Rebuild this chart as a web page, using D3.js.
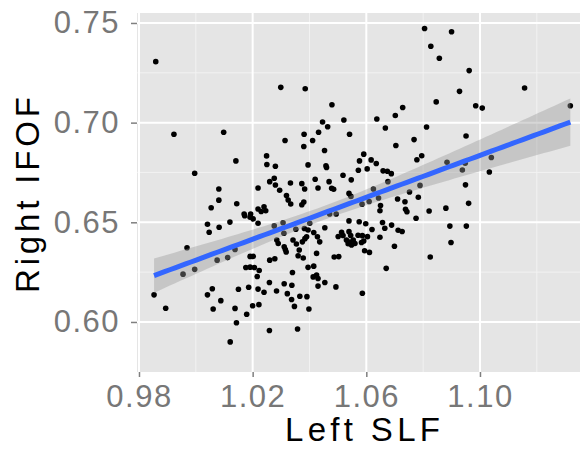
<!DOCTYPE html>
<html>
<head>
<meta charset="utf-8">
<script src="https://cdn.jsdelivr.net/npm/d3@7"></script>
<style>
  body { margin: 0; background: #fff; }
  text { font-family: "Liberation Sans", Arial, sans-serif; }
</style>
</head>
<body>
<div id="chart"></div>
<script>
// values, one entry per subject
const leftSLF = [
  0.9859, 0.9923, 0.9996, 1.0098, 1.0141, 1.0299, 1.0385, 1.0479, 1.0521, 1.0446,
  1.0464, 1.0381, 1.0432, 1.0541, 1.0411, 1.0314, 1.0380, 1.0453, 1.0249, 1.0250,
  1.0280, 1.0395, 1.0458, 1.0460, 1.0518, 1.0547, 1.0276, 1.0260, 1.0280, 1.0333,
  1.0373, 1.0420, 1.0469, 1.0081, 1.0219, 1.0295, 1.0383, 1.0430, 1.0319, 1.0325,
  1.0334, 1.0373, 1.0380, 1.0081, 1.0054, 1.0144, 1.0170, 1.0193, 1.0219, 1.0240,
  1.0246, 1.0230, 1.0805, 1.0900, 1.0827, 1.0857, 1.0962, 1.0928, 1.1157, 1.0846,
  1.0985, 1.1008, 1.0728, 1.0702, 1.0637, 1.0667, 1.1318, 1.0812, 1.0951, 1.0768,
  1.0704, 1.0795, 1.0778, 1.0591, 1.0576, 1.0617, 1.0635, 1.0603, 1.0572, 1.0659,
  1.0674, 1.0688, 1.0676, 1.0625, 1.0478, 1.0485, 1.0539, 1.0546, 1.0643, 1.0585,
  1.0610, 1.0752, 1.0789, 1.0884, 1.0938, 1.0948, 1.1040, 1.1033, 1.0949, 1.0710,
  1.0736, 1.0783, 1.0650, 1.0648, 1.0738, 1.0743, 1.0821, 1.0880, 1.0960, 1.0539,
  1.0575, 1.0598, 1.0620, 1.0657, 1.0665, 1.0689, 1.0712, 1.0726, 1.0775, 1.0894,
  1.0952, 1.0898, 1.0648, 1.0586, 1.0699, 1.0825, 1.0670, 1.0594, 1.0611, 1.0487,
  1.0503, 1.0493, 1.0586, 1.0513, 1.0501, 1.0518, 1.0539, 1.0545, 1.0530, 1.0542,
  1.0554, 1.0560, 1.0536, 1.0548, 1.0583, 1.0571, 1.0591, 1.0604, 1.0471, 1.0494,
  0.9853, 0.9894, 0.9969, 0.9955, 0.9996, 1.0075, 1.0112, 1.0138, 1.0041, 1.0047,
  1.0082, 1.0120, 1.0172, 1.0191, 1.0202, 1.0219, 1.0276, 1.0285, 1.0290, 1.0310,
  1.0315, 1.0318, 1.0352, 1.0354, 1.0364, 1.0360, 1.0378, 1.0382, 1.0395, 1.0390,
  1.0384, 1.0401, 1.0415, 1.0428, 1.0436, 1.0425, 1.0454, 1.0415, 1.0395, 1.0425,
  1.0413, 1.0430, 1.0430, 1.0454, 1.0340, 1.0176, 1.0191, 1.0206, 1.0223, 1.0216,
  1.0191, 1.0202, 1.0260, 1.0278, 1.0058, 1.0041, 1.0088, 1.0061, 1.0150, 1.0186,
  1.0219, 1.0240, 1.0259, 1.0284, 1.0311, 1.0338, 1.0322, 1.0337, 1.0347, 1.0366,
  1.0391, 1.0398, 1.0138, 1.0200, 1.0222, 1.0179, 1.0143, 1.0259, 1.0358, 1.0121,
  1.0311, 1.0342, 1.0375, 1.0307
];
const rightIFOF = [
  0.7306, 0.6942, 0.6746, 0.6952, 0.6808, 0.7177, 0.7170, 0.7090, 0.7013, 0.7003,
  0.6979, 0.6942, 0.6952, 0.6942, 0.6910, 0.6910, 0.6880, 0.6860, 0.6833, 0.6790,
  0.6781, 0.6788, 0.6784, 0.6775, 0.6736, 0.6713, 0.6721, 0.6704, 0.6687, 0.6697,
  0.6694, 0.6716, 0.6704, 0.6667, 0.6672, 0.6661, 0.6667, 0.6672, 0.6634, 0.6612,
  0.6592, 0.6588, 0.6602, 0.6611, 0.6573, 0.6593, 0.6542, 0.6542, 0.6567, 0.6578,
  0.6558, 0.6554, 0.7472, 0.7456, 0.7383, 0.7323, 0.7261, 0.7157, 0.7174, 0.7104,
  0.7085, 0.7073, 0.7076, 0.7036, 0.7018, 0.6973, 0.7085, 0.6978, 0.6933, 0.6915,
  0.6885, 0.6834, 0.6814, 0.6842, 0.6808, 0.6813, 0.6795, 0.6768, 0.6761, 0.6758,
  0.6756, 0.6744, 0.6704, 0.6667, 0.6671, 0.6666, 0.6645, 0.6630, 0.6622, 0.6591,
  0.6604, 0.6652, 0.6685, 0.6801, 0.6762, 0.6796, 0.6825, 0.6752, 0.6688, 0.6617,
  0.6603, 0.6626, 0.6584, 0.6558, 0.6565, 0.6553, 0.6557, 0.6571, 0.6595, 0.6507,
  0.6503, 0.6493, 0.6464, 0.6499, 0.6470, 0.6486, 0.6460, 0.6454, 0.6520, 0.6481,
  0.6481, 0.6399, 0.6425, 0.6433, 0.6380, 0.6326, 0.6269, 0.6357, 0.6349, 0.6326,
  0.6328, 0.6176, 0.6144, 0.6450, 0.6429, 0.6434, 0.6453, 0.6434, 0.6411, 0.6401,
  0.6411, 0.6394, 0.6393, 0.6386, 0.6399, 0.6435, 0.6406, 0.6428, 0.6542, 0.6542,
  0.6136, 0.6069, 0.6372, 0.6240, 0.6264, 0.6310, 0.6323, 0.6364, 0.6490, 0.6450,
  0.6475, 0.6501, 0.6533, 0.6525, 0.6517, 0.6495, 0.6482, 0.6411, 0.6394, 0.6445,
  0.6363, 0.6351, 0.6465, 0.6391, 0.6361, 0.6332, 0.6321, 0.6469, 0.6461, 0.6427,
  0.6418, 0.6495, 0.6449, 0.6427, 0.6402, 0.6344, 0.6473, 0.6280, 0.6274, 0.6235,
  0.6226, 0.6218, 0.6180, 0.6198, 0.6248, 0.6273, 0.6275, 0.6273, 0.6258, 0.6228,
  0.6329, 0.6329, 0.6310, 0.6317, 0.6167, 0.6136, 0.6107, 0.6065, 0.6164, 0.6174,
  0.6165, 0.6149, 0.6198, 0.6155, 0.6192, 0.6184, 0.6142, 0.6113, 0.6078, 0.6129,
  0.6127, 0.6065, 0.6068, 0.6081, 0.6087, 0.6039, 0.5996, 0.5957, 0.5965, 0.5900,
  0.6377, 0.6411, 0.6402, 0.6498
];

const xTicks = [0.98, 1.02, 1.06, 1.10];
const yTicks = [0.60, 0.65, 0.70, 0.75];
const xMinor = [1.00, 1.04, 1.08, 1.12];
const yMinor = [0.625, 0.675, 0.725];
const xTitle = "Left SLF";
const yTitle = "Right IFOF";

const width = 580,
  height = 456,
  panel = { left: 137, right: 580, top: 13, bottom: 372 };

const data = leftSLF.map((d, i) => ({ x: d, y: rightIFOF[i] }));

const xScale = d3.scaleLinear().domain([0.9793, 1.1352]).range([panel.left, panel.right]);
const yScale = d3.scaleLinear().domain([0.5749, 0.755]).range([panel.bottom, panel.top]);

// linear model + 95% band, like geom_smooth(method = "lm")
const n = data.length;
const mx = d3.mean(data, d => d.x), my = d3.mean(data, d => d.y);
const sxx = d3.sum(data, d => (d.x - mx) ** 2);
const sxy = d3.sum(data, d => (d.x - mx) * (d.y - my));
const slope = sxy / sxx, icpt = my - slope * mx;
const sres = Math.sqrt(d3.sum(data, d => (d.y - icpt - slope * d.x) ** 2) / (n - 2));
const tq = 1.97;
const [xmin, xmax] = d3.extent(data, d => d.x);
const fit = d3.range(80).map(i => {
  const x = xmin + (i / 79) * (xmax - xmin);
  const yhat = icpt + slope * x;
  const se = sres * Math.sqrt(1 / n + (x - mx) ** 2 / sxx);
  return { x, yhat, lo: yhat - tq * se, hi: yhat + tq * se };
});

const svg = d3.select("#chart").append("svg")
  .attr("width", width)
  .attr("height", height);

svg.append("rect")
  .attr("x", panel.left).attr("y", panel.top)
  .attr("width", panel.right - panel.left)
  .attr("height", panel.bottom - panel.top)
  .attr("fill", "#e5e5e5");

// minor grid
svg.append("g").selectAll("line").data(xMinor).join("line")
  .attr("x1", d => xScale(d)).attr("x2", d => xScale(d))
  .attr("y1", panel.top).attr("y2", panel.bottom)
  .attr("stroke", "#f2f2f2").attr("stroke-width", 1);
svg.append("g").selectAll("line").data(yMinor).join("line")
  .attr("x1", panel.left).attr("x2", panel.right)
  .attr("y1", d => yScale(d)).attr("y2", d => yScale(d))
  .attr("stroke", "#f2f2f2").attr("stroke-width", 1);

// major grid
svg.append("g").selectAll("line").data(xTicks).join("line")
  .attr("x1", d => xScale(d)).attr("x2", d => xScale(d))
  .attr("y1", panel.top).attr("y2", panel.bottom)
  .attr("stroke", "#fff").attr("stroke-width", 2);
svg.append("g").selectAll("line").data(yTicks).join("line")
  .attr("x1", panel.left).attr("x2", panel.right)
  .attr("y1", d => yScale(d)).attr("y2", d => yScale(d))
  .attr("stroke", "#fff").attr("stroke-width", 2);

// points
svg.append("g").selectAll("circle").data(data).join("circle")
  .attr("cx", d => xScale(d.x))
  .attr("cy", d => yScale(d.y))
  .attr("r", 2.8)
  .attr("fill", "#000");

// confidence band
svg.append("path")
  .datum(fit)
  .attr("fill", "#999")
  .attr("fill-opacity", 0.4)
  .attr("d", d3.area().x(d => xScale(d.x)).y0(d => yScale(d.lo)).y1(d => yScale(d.hi)));

// fitted line
svg.append("path")
  .datum(fit)
  .attr("fill", "none")
  .attr("stroke", "#3366ff")
  .attr("stroke-width", 5)
  .attr("d", d3.line().x(d => xScale(d.x)).y(d => yScale(d.yhat)));

// axes
const xAxis = d3.axisBottom(xScale).tickValues(xTicks).tickFormat(d3.format(".2f"))
  .tickSize(5).tickPadding(8);
const yAxis = d3.axisLeft(yScale).tickValues(yTicks).tickFormat(d3.format(".2f"))
  .tickSize(6).tickPadding(11);

function styleAxis(g) {
  g.select(".domain").remove();
  g.selectAll(".tick line").attr("stroke", "#7f7f7f").attr("stroke-width", 1.5);
  g.selectAll(".tick text")
    .attr("fill", "#777")
    .attr("font-size", 31)
    .attr("font-family", "Liberation Sans, Arial, sans-serif")
    .style("letter-spacing", "1.5px");
}

svg.append("g")
  .attr("transform", `translate(0,${panel.bottom})`)
  .call(xAxis)
  .call(styleAxis);

svg.append("g")
  .attr("transform", `translate(${panel.left},0)`)
  .call(yAxis)
  .call(styleAxis);

// titles
svg.append("text")
  .attr("x", (panel.left + panel.right) / 2 + 4)
  .attr("y", 441)
  .attr("text-anchor", "middle")
  .attr("font-size", 33)
  .attr("textLength", 155)
  .attr("lengthAdjust", "spacing")
  .attr("fill", "#000")
  .text(xTitle);

svg.append("text")
  .attr("transform", `translate(38.5,195) rotate(-90)`)
  .attr("text-anchor", "middle")
  .attr("font-size", 33)
  .attr("textLength", 196)
  .attr("lengthAdjust", "spacing")
  .attr("fill", "#000")
  .text(yTitle);
</script>
</body>
</html>
